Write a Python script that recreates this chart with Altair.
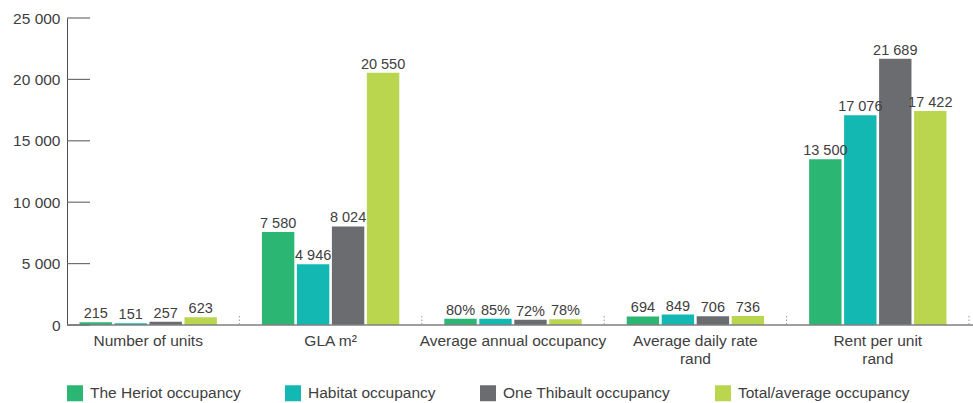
import altair as alt
import pandas as pd

categories = ["Number of units", "GLA m²", "Average annual occupancy",
              "Average daily rate\nrand", "Rent per unit\nrand"]
series = ["The Heriot occupancy", "Habitat occupancy",
          "One Thibault occupancy", "Total/average occupancy"]
colors = ["#2bb673", "#12b8b1", "#6b6c70", "#bad64f"]

heriot_values = [215, 7580, 80, 694, 13500]
habitat_values = [151, 4946, 85, 849, 17076]
thibault_values = [257, 8024, 72, 706, 21689]
total_values = [623, 20550, 78, 736, 17422]
# occupancy (%) bars as drawn on the shared axis
occupancy_bar_heights = [500, 500, 430, 460]

y_ticks = [0, 5000, 10000, 15000, 20000, 25000]

rows = []
for j, (s, vals) in enumerate(zip(series, [heriot_values, habitat_values,
                                            thibault_values, total_values])):
    for i, c in enumerate(categories):
        v = vals[i]
        if c == "Average annual occupancy":
            h = occupancy_bar_heights[j]
            lab = f"{v}%"
        else:
            h = v
            lab = f"{v:,}".replace(",", " ")
        rows.append({"cat": c, "series": s, "value": h, "label": lab})
df = pd.DataFrame(rows)

FONT = "Liberation Sans"
TXT = "#404040"

xscale = alt.Scale(domain=categories, paddingInner=0, paddingOuter=0)
xoff = alt.XOffset("series:N", scale=alt.Scale(domain=series, paddingInner=0.074, paddingOuter=0.644))
yscale = alt.Scale(domain=[0, 25000], nice=False)

bars = alt.Chart(df).mark_bar().encode(
    x=alt.X("cat:N", scale=xscale, sort=categories,
            axis=alt.Axis(title=None, domain=False, ticks=False, labelAngle=0,
                          labelFont=FONT, labelFontSize=15.5, labelColor=TXT,
                          labelPadding=8, labelLimit=400, labelLineHeight=18,
                          labelExpr="split(datum.label, '\\n')")),
    xOffset=xoff,
    y=alt.Y("value:Q", scale=yscale,
            axis=alt.Axis(title=None, values=y_ticks, grid=False, ticks=False,
                          domain=True, domainColor="#4d4d4d", domainWidth=1,
                          offset=-10, labelPadding=7, labelFont=FONT,
                          labelFontSize=15.5, labelColor=TXT,
                          labelExpr="replace(format(datum.value, ','), ',', ' ')")),
    color=alt.Color("series:N", scale=alt.Scale(domain=series, range=colors),
                    legend=alt.Legend(title=None, orient="none", legendX=10, legendY=367,
                                      direction="horizontal", columns=4,
                                      symbolType="square", symbolSize=256,
                                      symbolStrokeWidth=0, labelFont=FONT,
                                      labelFontSize=15.5, labelColor=TXT,
                                      labelOffset=7, columnPadding=44,
                                      labelLimit=400, padding=0)),
)

text = alt.Chart(df).mark_text(baseline="alphabetic", dy=-4, font=FONT,
                               fontSize=14.5, color=TXT).encode(
    x=alt.X("cat:N", scale=xscale, sort=categories),
    xOffset=xoff,
    y=alt.Y("value:Q", scale=yscale),
    text="label:N",
)

seps = alt.Chart(pd.DataFrame({"cat": categories})).mark_rule(
    color="#9a9a9a", strokeDash=[1.5, 2], strokeWidth=1).encode(
    x=alt.X("cat:N", scale=xscale, sort=categories, bandPosition=1),
    y=alt.value(298), y2=alt.value(306),
)

xline = alt.Chart(pd.DataFrame({"v": [0]})).mark_rule(
    color="#7f7f7f", strokeWidth=1.6).encode(
    x=alt.value(10), x2=alt.value(916), y=alt.Y("v:Q", scale=yscale))

yt = alt.Chart(pd.DataFrame({"v": y_ticks})).mark_rule(
    color="#6f6f6f", strokeWidth=1.2).encode(
    x=alt.value(10), x2=alt.value(33), y=alt.Y("v:Q", scale=yscale))

chart = alt.layer(bars, text, seps, xline, yt).properties(
    width=912, height=307,
    autosize=alt.AutoSizeParams(type="none"),
    padding={"left": 57, "top": 18, "right": 4, "bottom": 78},
).configure_view(stroke=None)

chart.save("out.html", embed_options={"renderer": "svg", "actions": False})
